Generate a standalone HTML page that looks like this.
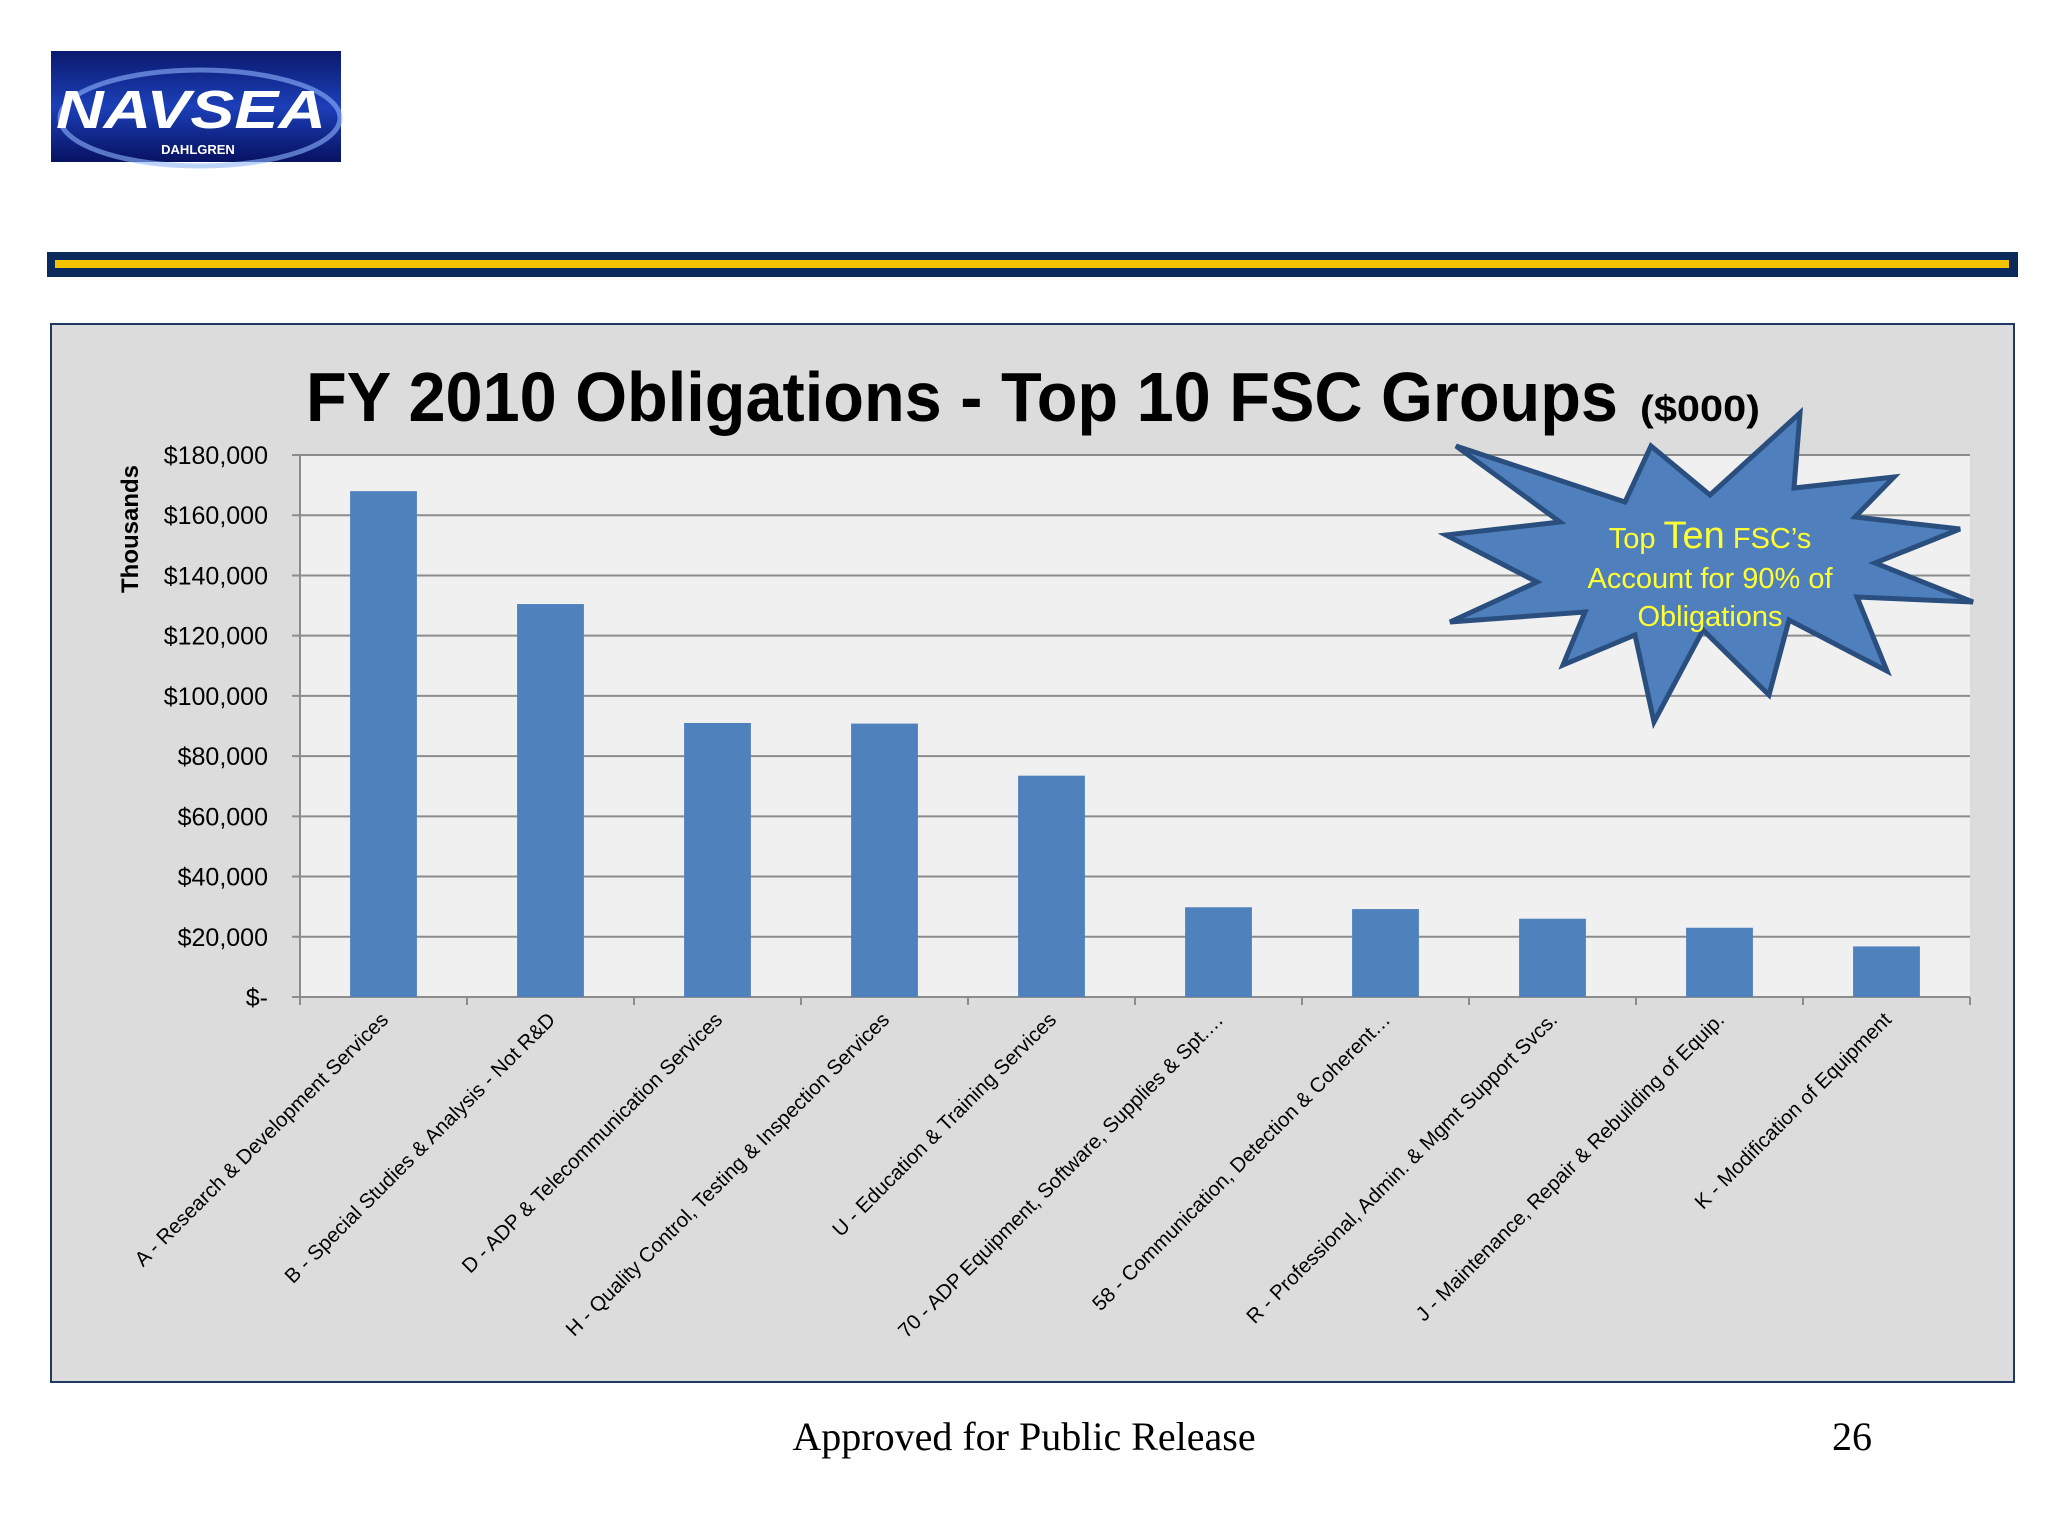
<!DOCTYPE html>
<html><head><meta charset="utf-8"><style>
html,body{margin:0;padding:0;background:#fff;}
svg{display:block;}
</style></head><body>
<svg id="root" width="2048" height="1536" viewBox="0 0 2048 1536" xmlns="http://www.w3.org/2000/svg" font-family="'Liberation Sans', sans-serif">
  <defs>
    <linearGradient id="lg" x1="0" y1="0" x2="0" y2="1">
      <stop offset="0" stop-color="#0a1a6e"/><stop offset="0.5" stop-color="#1c3fb8"/><stop offset="1" stop-color="#071262"/>
    </linearGradient>
  </defs>
  <g>
    <rect x="51" y="51" width="290" height="111" fill="url(#lg)"/>
    <ellipse cx="200" cy="118" rx="140" ry="48" fill="none" stroke="#8fb4ff" stroke-width="5" opacity="0.6"/>
    <text x="191" y="128" font-size="54" font-weight="bold" font-style="italic" fill="#fff" text-anchor="middle" textLength="270" lengthAdjust="spacingAndGlyphs">NAVSEA</text>
    <text x="198" y="154" font-size="13" font-weight="bold" fill="#fff" text-anchor="middle">DAHLGREN</text>
  </g>
  <rect x="47" y="252" width="1971" height="25" fill="#0b2a5c"/>
  <rect x="55" y="260" width="1954" height="8" fill="#f5c400"/>

  <rect x="51" y="324" width="1963" height="1058" fill="#dcdcdc" stroke="#1f3864" stroke-width="2"/>
  <text x="306" y="421" font-size="70" font-weight="bold" fill="#000" textLength="1312" lengthAdjust="spacingAndGlyphs">FY 2010 Obligations - Top 10 FSC Groups</text>
  <text x="1640" y="421" font-size="36" font-weight="bold" fill="#000" textLength="120" lengthAdjust="spacingAndGlyphs">($000)</text>
  <text transform="translate(138,529) rotate(-90)" font-size="24" font-weight="bold" text-anchor="middle" fill="#000">Thousands</text>

  <g id="chart"></g>

  <g>
    <polygon points="1800,413 1794,488 1894,477 1855,517 1960,529 1875,563 1973,602 1857,597 1887,671 1789,620 1769,695 1703,630 1654,722 1635,635 1563,665 1585,612 1450,622 1537,582 1446,535 1560,522 1456,446 1625,502 1651,446 1710,495" fill="#4f7fbd" stroke="#2a4f7f" stroke-width="5" stroke-linejoin="miter"/>
    <text x="1710" y="548" font-size="29" fill="#ffff33" text-anchor="middle">Top <tspan font-size="38">Ten</tspan> FSC’s</text>
    <text x="1710" y="588" font-size="29" fill="#ffff33" text-anchor="middle">Account for 90% of</text>
    <text x="1710" y="626" font-size="29" fill="#ffff33" text-anchor="middle">Obligations</text>
  </g>

  <text x="1024" y="1450" font-family="'Liberation Serif', serif" font-size="40" text-anchor="middle" fill="#000">Approved for Public Release</text>
  <text x="1852" y="1450" font-family="'Liberation Serif', serif" font-size="40" text-anchor="middle" fill="#000">26</text>
</svg>
<script>
const categories = ["A - Research & Development Services","B - Special Studies & Analysis - Not R&D","D - ADP & Telecommunication Services","H - Quality Control, Testing & Inspection Services","U - Education & Training Services","70 - ADP Equipment, Software, Supplies & Spt.…","58 - Communication, Detection & Coherent…","R - Professional, Admin. & Mgmt Support Svcs.","J - Maintenance, Repair & Rebuilding of Equip.","K - Modification of Equipment"];
const values = [168000,130500,91000,90800,73500,29800,29200,26000,23000,16800];
const tickValues = [0,20000,40000,60000,80000,100000,120000,140000,160000,180000];
const tickLabels = ["$-","$20,000","$40,000","$60,000","$80,000","$100,000","$120,000","$140,000","$160,000","$180,000"];

const NS="http://www.w3.org/2000/svg";
const g=document.getElementById('chart');
const X0=300, X1=1970, Y0=997, Y1=455, VMAX=180000;
const y=v=>Y0-(v/VMAX)*(Y0-Y1);
const bw=(X1-X0)/categories.length;
const x=i=>X0+bw*i;
function mk(t,a){const e=document.createElementNS(NS,t);for(const k in a)e.setAttribute(k,a[k]);g.appendChild(e);return e;}
const pa=mk('rect',{x:X0,y:Y1,width:X1-X0,height:Y0-Y1,fill:'#f0f0f0'});


tickValues.forEach((v,i)=>{
  const ln=mk('line',{x1:X0-8,x2:X1,y1:y(v),y2:y(v),stroke:'#8c8c8c','stroke-width':2});
  
  
  const t=mk('text',{x:268,y:y(v)+9,'font-size':25,'text-anchor':'end',fill:'#000'});
  t.textContent=tickLabels[i];
  
  
});
const ax=mk('line',{x1:X0,x2:X0,y1:Y1,y2:Y0+8,stroke:'#8c8c8c','stroke-width':2});


for(let i=0;i<=categories.length;i++){
  const tk=mk('line',{x1:x(i),x2:x(i),y1:Y0,y2:Y0+8,stroke:'#8c8c8c','stroke-width':2});
  
  
}
categories.forEach((c,i)=>{
  const cx=x(i)+bw/2, w=bw*0.4;
  const b=mk('rect',{x:cx-w/2,y:y(values[i]),width:w,height:Y0-y(values[i]),fill:'#4f81bd'});
  
  
  const t=mk('text',{transform:`translate(${cx+6},${Y0+24}) rotate(-45)`,'font-size':20.5,'text-anchor':'end',fill:'#000'});
  t.textContent=c;
  
  
});
</script>
</body></html>
